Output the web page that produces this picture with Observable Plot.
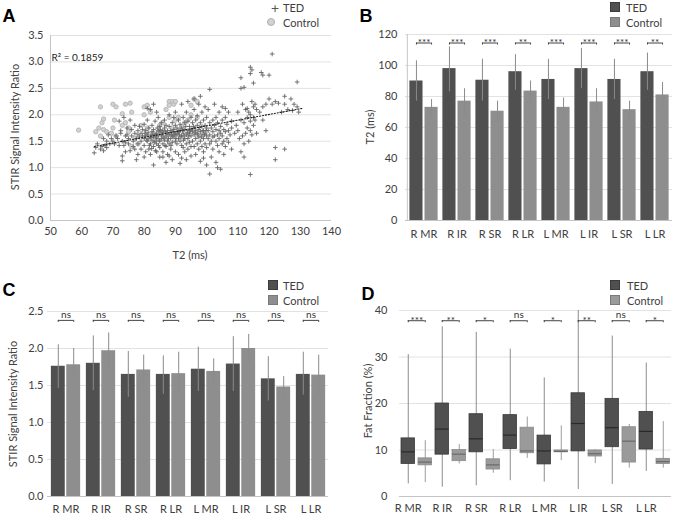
<!DOCTYPE html>
<html><head><meta charset="utf-8">
<script src="https://cdn.jsdelivr.net/npm/d3@7"></script>
<script src="https://cdn.jsdelivr.net/npm/@observablehq/plot@0.6"></script>
<style>
body{margin:0;background:#fff;}
#root{position:relative;width:674px;height:517px;overflow:hidden;font-family:Lato,sans-serif;color:#404040;}
.abs{position:absolute;white-space:nowrap;line-height:1;}
.letter{font-family:"Liberation Sans",Arial,sans-serif;font-weight:bold;font-size:18px;color:#000;transform:translate(-50%,-50%);}
.title{font-size:11px;color:#404040;}
.vt{transform:translate(-50%,-50%) rotate(-90deg);}
.ht{transform:translate(-50%,-50%);}
.leg{font-size:11px;color:#404040;transform:translateY(-50%);}
.legsym{font-size:14px;color:#555;transform:translate(-50%,-50%);}
.sw{position:absolute;width:10px;height:10px;box-sizing:border-box;}
</style></head><body><div id="root"></div>
<script>
// ---------------- DATA ----------------
const cats = ["R MR","R IR","R SR","R LR","L MR","L IR","L SR","L LR"];

// Panel A: scatter
const xTicksA = [50,60,70,80,90,100,110,120,130,140];
const yTicksA = [0,0.5,1.0,1.5,2.0,2.5,3.0,3.5];
const r2Label = "R² = 0.1859";
const trendA = [[64,1.40],[130.5,2.12]];
const ctlPts = [[59,1.71],[64.5,1.68],[65.5,1.75],[66,2.15],[66,1.6],[66.5,1.85],[67,1.92],[67,1.72],[68,1.68],[69.5,1.65],[70,2.2],[70,1.75],[70.5,1.9],[71,2.15],[71,1.6],[73,2.02],[73,1.8],[74,2.2],[74,1.85],[75,1.75],[75,1.68],[75.5,2.22],[76,2.05],[76,1.4],[77,1.55],[78,1.45],[79,1.8],[80,2.15],[80,2.0],[81,2.18],[81,1.75],[82,2.05],[83,1.65],[85,1.8],[86,1.85],[87,2.1],[88,2.25],[88,2.18],[88,1.95],[89,2.25],[89,1.75],[89.5,2.2],[90,2.25],[90,1.9],[91,1.95],[91,1.7],[92,1.78],[93,1.85],[94,1.9],[95,2.18],[95,2.0],[96,2.3],[97,2.25],[97,1.95]];
const tedPts = [
[64,1.28],[64.5,1.38],[65,1.45],[66,1.35],[66.5,1.40],[67,1.32],[67.5,1.42],[68,1.38],[68,1.5],[69,1.45],[69.5,1.55],[68.5,1.62],[67,1.55],
[70,1.5],[70.5,1.45],[71,1.6],[71.5,1.55],[72,1.42],[72.5,1.65],[72,1.88],[73,1.22],[73,1.13],[73.5,1.42],[73.5,1.95],[74,1.48],[74,1.3],[74.5,1.62],[74.5,1.75],[75,1.55],[75,1.45],[74,1.6],[73,1.5],[72.5,1.7],
[75.5,1.32],[75.5,1.9],[76,1.6],[76,1.72],[76.5,1.5],[76.5,1.4],[77,1.65],[77,1.8],[77.5,1.15],[77.5,1.55],[78,1.62],[78,1.7],[78,1.45],[78.5,1.58],[78.5,1.78],[79,1.5],[79,1.65],[79,1.35],[79.5,1.72],[79.5,1.6],[80,1.55],[80,1.82],[80,1.42],[80,1.2],[77,1.35],[78,1.25],
[80.5,1.6],[80.5,1.7],[81,1.5],[81,1.62],[81,1.9],[81.5,1.55],[81.5,1.35],[81.5,1.75],[82,1.6],[82,1.45],[82,2.1],[82,1.25],[82.5,1.68],[82.5,1.52],[82.5,1.8],[83,1.58],[83,1.4],[83,1.72],[83,1.05],[83.5,1.62],[83.5,1.5],[83.5,1.88],[84,1.65],[84,1.45],[84,1.3],[84,1.55],[84.5,1.7],[84.5,1.6],[84.5,1.95],[85,1.5],[85,1.68],[85,1.38],[85,1.78],[85,1.2],[80.5,1.3],[81,2.12],[83,2.2],[84,2.05],
[80.8,1.52],[81.3,1.66],[82.2,1.57],[82.8,1.63],[83.2,1.48],[83.8,1.58],[84.2,1.75],[84.8,1.52],[80.2,1.65],[81.7,1.42],[82.4,1.36],[83.6,1.32],[84.6,1.42],
[85.5,1.62],[85.5,1.55],[85.5,1.85],[86,1.7],[86,1.45],[86,1.6],[86,1.3],[86.5,1.75],[86.5,1.52],[86.5,1.9],[87,1.65],[87,1.4],[87,1.8],[87,1.58],[87.5,1.7],[87.5,1.5],[87.5,1.25],[88,1.62],[88,1.78],[88,1.45],[88,2.0],[88.5,1.55],[88.5,1.7],[88.5,1.35],[89,1.6],[89,1.85],[89,1.48],[89,1.15],[89.5,1.72],[89.5,1.58],[89.5,1.95],[90,1.65],[90,1.5],[90,1.8],[90,1.3],[90,2.05],[86,1.2],[87,1.1],[88,1.22],
[85.8,1.66],[86.3,1.56],[86.8,1.68],[87.3,1.62],[87.8,1.55],[88.3,1.66],[88.8,1.62],[89.3,1.68],[89.8,1.62],[85.2,1.72],[86.7,1.42],[88.6,1.42],
[90.5,1.62],[90.5,1.75],[90.5,1.45],[91,1.55],[91,1.68],[91,1.9],[91,1.25],[91.5,1.7],[91.5,1.5],[91.5,1.82],[91.5,1.08],[92,1.6],[92,1.42],[92,1.75],[92,2.2],[92.5,1.65],[92.5,1.38],[92.5,1.95],[93,1.55],[93,1.72],[93,1.3],[93,1.85],[93.5,1.62],[93.5,1.45],[93.5,2.05],[93.5,1.15],[94,1.7],[94,1.55],[94,1.88],[94,1.35],[94.5,1.65],[94.5,1.48],[94.5,1.78],[95,1.6],[95,1.72],[95,1.4],[95,1.95],[95,1.22],[92,1.18],[94,2.25],
[90.8,1.68],[91.3,1.62],[91.8,1.58],[92.3,1.7],[92.8,1.6],[93.3,1.78],[93.8,1.66],[94.3,1.6],[94.8,1.7],[90.2,1.55],[92.6,1.52],
[95.5,1.68],[95.5,1.5],[95.5,1.85],[96,1.62],[96,1.75],[96,1.4],[96,2.1],[96.5,1.55],[96.5,1.7],[96.5,1.9],[96.5,1.25],[97,1.65],[97,1.8],[97,1.45],[97,1.98],[97.5,1.58],[97.5,1.72],[97.5,1.35],[97.5,2.2],[98,1.68],[98,1.5],[98,1.85],[98,1.12],[98.5,1.62],[98.5,1.78],[98.5,1.4],[98.5,2.05],[99,1.7],[99,1.55],[99,1.9],[99,1.3],[99.5,1.65],[99.5,1.45],[99.5,1.8],[99.5,2.15],[100,1.6],[100,1.75],[100,1.38],[100,1.05],[100,1.95],[96,2.3],[98,2.35],[99,1.18],
[95.8,1.78],[96.3,1.66],[97.2,1.62],[97.8,1.76],[98.3,1.58],[98.8,1.7],[99.3,1.62],[99.8,1.7],
[100.5,1.7],[100.5,1.55],[100.5,2.1],[101,1.62],[101,1.45],[101,1.85],[101,0.88],[101,2.48],[101.5,1.75],[101.5,1.5],[101.5,1.2],[102,1.68],[102,1.9],[102,1.58],[102,1.35],[102.5,1.8],[102.5,1.6],[102.5,2.2],[103,1.72],[103,1.5],[103,1.95],[103,1.1],[103.5,1.62],[103.5,1.85],[103.5,1.42],[103.5,1.0],[104,1.7],[104,1.55],[104,2.05],[104,1.3],[104.5,1.65],[104.5,1.78],[104.5,0.97],[105,1.6],[105,1.9],[105,1.45],[105,2.15],[105.5,1.72],[105.5,1.5],[105.5,1.25],[106,1.68],[106,1.95],[106,1.4],[106.5,1.82],[106.5,1.55],[107,1.7],[107,2.05],[107,1.48],[107.5,1.62],[108,1.75],[108,1.88],[108,1.35],[106,2.12],
[109,1.65],[109.5,1.8],[110,1.7],[110,2.05],[110.5,1.55],[111,1.9],[111,1.3],[111,2.5],[111,2.7],[111.5,2.2],[111.5,1.6],[112,2.52],[112,1.85],[112,1.45],[112,1.2],[112.5,2.1],[112.5,1.65],[113,1.95],[113,1.75],[113,2.12],[113.5,1.5],[113.5,2.05],[114,2.9],[114,2.78],[114,2.0],[114,1.88],[114,0.87],[114,1.7],[114.5,2.85],[114.5,2.25],[114.5,1.62],[115,2.15],[115,1.95],[115,1.8],[115,2.6],[115.5,2.2],[115.5,1.9],[116,1.65],[116,2.1],[117,2.05],[117.5,2.8],[118,2.75],[118,2.15],[118,1.9],[119,1.7],[119,2.2],[120,2.75],[120,2.3],[121,3.15],[121,2.2],[122,1.38],[122,1.15],[122,2.25],[123,2.22],[124,2.05],[125,2.35],[125,2.2],[125,1.35],[126,2.1],[127,2.3],[127.5,2.08],[128,2.2],[129,2.62],[129,2.15],[129.5,2.05]
];

// Panel B: T2 (ms)
const yTicksB = [0,20,40,60,80,100,120];
const t2Ted   = [90, 98, 90.5, 96, 91, 98, 91, 96];
const t2TedLo = [77, 83, 77, 84, 78, 85, 78, 84];
const t2TedHi = [103, 112, 104, 107, 104, 111, 104, 108];
const t2Ctl   = [73, 77, 70.5, 83.5, 73, 76.5, 71.5, 81];
const t2CtlLo = [67, 68, 64, 77, 67, 68, 65, 72];
const t2CtlHi = [78, 85, 77, 90, 79, 85, 77, 89];
const t2Sig   = ["***","***","***","**","***","***","***","**"];
const t2SigY  = 114.5;

// Panel C: STIR signal intensity ratio
const yTicksC = [0,0.5,1.0,1.5,2.0,2.5];
const stTed   = [1.76, 1.80, 1.65, 1.65, 1.72, 1.79, 1.59, 1.65];
const stTedLo = [1.46, 1.43, 1.34, 1.38, 1.42, 1.42, 1.29, 1.37];
const stTedHi = [2.05, 2.17, 1.96, 1.90, 2.02, 2.16, 1.89, 1.95];
const stCtl   = [1.78, 1.97, 1.71, 1.66, 1.69, 2.00, 1.48, 1.64];
const stCtlLo = [1.58, 1.72, 1.51, 1.38, 1.50, 1.79, 1.35, 1.37];
const stCtlHi = [2.00, 2.21, 1.91, 1.95, 1.86, 2.19, 1.62, 1.91];
const stSig   = ["ns","ns","ns","ns","ns","ns","ns","ns"];
const stSigY  = 2.38;

// Panel D: Fat fraction (%)
const yTicksD = [0,10,20,30,40];
const ffTedMin = [2.7, 2.0, 2.3, 3.4, 3.1, 1.5, 2.6, 5.4];
const ffTedQ1  = [7.0, 9.0, 9.5, 10.2, 6.9, 9.7, 10.6, 10.1];
const ffTedMed = [9.6, 14.5, 12.4, 13.2, 9.8, 15.7, 14.8, 14.0];
const ffTedQ3  = [12.5, 20.0, 17.7, 17.5, 13.1, 22.2, 21.0, 18.2];
const ffTedMax = [30.5, 36.5, 35.3, 31.7, 25.5, 40.0, 34.5, 28.7];
const ffCtlMin = [3.0, 7.0, 5.0, 8.2, 7.7, 7.1, 6.1, 6.1];
const ffCtlQ1  = [6.7, 7.6, 5.8, 9.3, 9.5, 8.6, 7.3, 7.0];
const ffCtlMed = [7.4, 9.1, 6.8, 9.8, 9.7, 9.2, 11.9, 7.5];
const ffCtlQ3  = [8.2, 10.0, 8.0, 14.8, 9.9, 9.9, 14.9, 8.1];
const ffCtlMax = [12.0, 11.2, 10.1, 17.1, 15.2, 10.1, 15.5, 16.1];
const ffSig    = ["***","**","*","ns","*","**","ns","*"];
const ffSigY   = 37.8;

// ---------------- STYLE ----------------
const TED_FILL = "#505050", CTL_FILL = "#8e8e8e";
const GRID = "#e2e2e2", AXISLINE = "#c4c4c4", ERR = "#8a8a8a";
const baseStyle = {fontFamily:"Lato, sans-serif", fontSize:"11px", color:"#404040", background:"transparent", overflow:"visible"};

const root = document.getElementById("root");
function addSvg(svg, left, top){ svg.style.position="absolute"; svg.style.left=left+"px"; svg.style.top=top+"px"; root.appendChild(svg); }
function txt(text, x, y, cls){ const d=document.createElement("div"); d.className="abs "+cls; d.textContent=text; d.style.left=x+"px"; d.style.top=y+"px"; root.appendChild(d); return d; }
function swatch(x, y, fill, stroke){ const d=document.createElement("div"); d.className="sw"; d.style.left=x+"px"; d.style.top=y+"px"; d.style.background=fill; d.style.border="1px solid "+stroke; root.appendChild(d); }

// ---------------- PANEL A ----------------
const plotA = Plot.plot({
  width:337, height:258, marginLeft:50, marginRight:6, marginTop:35, marginBottom:38,
  style: baseStyle,
  x:{domain:[xTicksA[0], xTicksA[xTicksA.length-1]]},
  y:{domain:[yTicksA[0], yTicksA[yTicksA.length-1]]},
  marks:[
    Plot.gridY({ticks:yTicksA, stroke:GRID, strokeOpacity:1}),
    Plot.ruleX([xTicksA[0]], {stroke:AXISLINE}),
    Plot.ruleY([yTicksA[0]], {stroke:AXISLINE}),
    Plot.axisY({ticks:yTicksA, tickSize:0, tickPadding:7, tickFormat:d=>d.toFixed(1), label:null}),
    Plot.axisX({ticks:xTicksA, tickSize:0, tickPadding:7, label:null}),
    Plot.dot(ctlPts, {x:d=>d[0], y:d=>d[1], r:2.2, fill:"#d2d2d2", stroke:"#b0b0b0", strokeWidth:0.8}),
    Plot.dot(tedPts, {x:d=>d[0], y:d=>d[1], symbol:"plus", r:1.6, stroke:"#666", strokeWidth:0.9, fill:"none"}),
    Plot.line(trendA, {x:d=>d[0], y:d=>d[1], stroke:"#1a1a1a", strokeWidth:1.1, strokeDasharray:"1.2,1.8"}),
    Plot.text([r2Label], {text:d=>d, frameAnchor:"top-left", textAnchor:"start", dx:1, dy:18, fontSize:10, fill:"#222"})
  ]
});
addSvg(plotA, 0, 0);

// ---------------- PANELS B & C ----------------
function barPanel(o){
  const rows = cats.map((c,i)=>({cat:c, ted:o.ted[i], tLo:o.tedLo[i], tHi:o.tedHi[i], ctl:o.ctl[i], cLo:o.ctlLo[i], cHi:o.ctlHi[i], sig:o.sig[i]}));
  const bw = (o.width - o.ml - o.mr)/cats.length;
  const half = bw/2, g = o.gap/2, w = o.barW;
  const cOff = g + w/2;
  const y0 = o.yTicks[0], y1 = o.yTicks[o.yTicks.length-1];
  const capLen = 2*(y1-y0)/(o.height - o.mt - o.mb);
  const marks = [
    Plot.gridY({ticks:o.yTicks, stroke:GRID, strokeOpacity:1}),
    Plot.ruleY([y0], {stroke:AXISLINE}),
    Plot.barY(rows, {x:"cat", y:"ted", fill:TED_FILL, insetLeft:half-g-w, insetRight:half+g}),
    Plot.barY(rows, {x:"cat", y:"ctl", fill:CTL_FILL, insetLeft:half+g, insetRight:half-g-w}),
    Plot.ruleX(rows, {x:"cat", y1:"tLo", y2:"tHi", dx:-cOff, stroke:ERR}),
    Plot.ruleX(rows, {x:"cat", y1:"cLo", y2:"cHi", dx:cOff, stroke:ERR}),
    Plot.ruleY(rows, {x1:"cat", x2:"cat", y:()=>o.sigY, insetLeft:half-cOff, insetRight:half-cOff, stroke:"#444"}),
    Plot.ruleX(rows, {x:"cat", y1:()=>o.sigY, y2:()=>o.sigY-capLen, dx:-cOff, stroke:"#444"}),
    Plot.ruleX(rows, {x:"cat", y1:()=>o.sigY, y2:()=>o.sigY-capLen, dx:cOff, stroke:"#444"}),
    Plot.text(rows, {filter:d=>d.sig!=="ns", x:"cat", y:()=>o.sigY, text:"sig", dy:0, fontSize:10, fill:"#333"}),
    Plot.text(rows, {filter:d=>d.sig==="ns", x:"cat", y:()=>o.sigY, text:"sig", dy:-6, fontSize:10, fill:"#333"}),
    Plot.axisY({ticks:o.yTicks, tickSize:0, tickPadding:o.ytp, tickFormat:o.fmt, label:null}),
    Plot.axisX({tickSize:0, tickPadding:o.xtp, label:null})
  ];
  if (o.leftLine) marks.splice(1, 0, Plot.ruleX([cats[0]], {dx:-half, stroke:AXISLINE}));
  return Plot.plot({
    width:o.width, height:o.height, marginLeft:o.ml, marginRight:o.mr, marginTop:o.mt, marginBottom:o.mb,
    style: baseStyle,
    x:{domain:cats, padding:0}, y:{domain:[y0,y1]},
    marks
  });
}

const plotB = barPanel({width:337, height:258, ml:68, mr:2, mt:34, mb:38,
  ted:t2Ted, tedLo:t2TedLo, tedHi:t2TedHi, ctl:t2Ctl, ctlLo:t2CtlLo, ctlHi:t2CtlHi, sig:t2Sig, sigY:t2SigY,
  yTicks:yTicksB, fmt:d=>String(d), ytp:8, xtp:10, gap:1.6, barW:13.5, leftLine:true});
addSvg(plotB, 337, 0);

const plotC = barPanel({width:337, height:259, ml:47, mr:9, mt:53, mb:21,
  ted:stTed, tedLo:stTedLo, tedHi:stTedHi, ctl:stCtl, ctlLo:stCtlLo, ctlHi:stCtlHi, sig:stSig, sigY:stSigY,
  yTicks:yTicksC, fmt:d=>d.toFixed(1), ytp:4, xtp:9, gap:1.4, barW:14, leftLine:false});
addSvg(plotC, 0, 258);

// ---------------- PANEL D ----------------
(function(){
  const rows = cats.map((c,i)=>({cat:c, tMin:ffTedMin[i], tQ1:ffTedQ1[i], tMed:ffTedMed[i], tQ3:ffTedQ3[i], tMax:ffTedMax[i],
    cMin:ffCtlMin[i], cQ1:ffCtlQ1[i], cMed:ffCtlMed[i], cQ3:ffCtlQ3[i], cMax:ffCtlMax[i], sig:ffSig[i]}));
  const W=337, H=259, ml=62, mr=3, mt=52, mb=21;
  const bw = (W-ml-mr)/cats.length;
  const boxW = 13.5, tedL = 2, ctlL = 19;
  const tedR = bw - tedL - boxW, ctlR = bw - ctlL - boxW;
  const tedDx = tedL + boxW/2 - bw/2, ctlDx = ctlL + boxW/2 - bw/2;
  const y0 = yTicksD[0], y1 = yTicksD[yTicksD.length-1];
  const capLen = 2*(y1-y0)/(H-mt-mb);
  const plotD = Plot.plot({
    width:W, height:H, marginLeft:ml, marginRight:mr, marginTop:mt, marginBottom:mb,
    style: baseStyle,
    x:{domain:cats, padding:0}, y:{domain:[y0,y1]},
    marks:[
      Plot.gridY({ticks:yTicksD, stroke:GRID, strokeOpacity:1}),
      Plot.ruleY([y0], {stroke:AXISLINE}),
      Plot.ruleX(rows, {x:"cat", y1:"tMin", y2:"tMax", dx:tedDx, stroke:"#8c8c8c"}),
      Plot.ruleX(rows, {x:"cat", y1:"cMin", y2:"cMax", dx:ctlDx, stroke:"#9c9c9c"}),
      Plot.barY(rows, {x:"cat", y1:"tQ1", y2:"tQ3", insetLeft:tedL, insetRight:tedR, fill:TED_FILL, stroke:"#3a3a3a", strokeWidth:0.8}),
      Plot.barY(rows, {x:"cat", y1:"cQ1", y2:"cQ3", insetLeft:ctlL, insetRight:ctlR, fill:"#9a9a9a", stroke:"#8a8a8a", strokeWidth:0.8}),
      Plot.ruleY(rows, {x1:"cat", x2:"cat", y:"tMed", insetLeft:tedL, insetRight:tedR, stroke:"#2a2a2a", strokeWidth:1.2}),
      Plot.ruleY(rows, {x1:"cat", x2:"cat", y:"cMed", insetLeft:ctlL, insetRight:ctlR, stroke:"#6a6a6a", strokeWidth:1.2}),
      Plot.ruleY(rows, {x1:"cat", x2:"cat", y:()=>ffSigY, insetLeft:tedL+boxW/2, insetRight:ctlR+boxW/2, stroke:"#444"}),
      Plot.ruleX(rows, {x:"cat", y1:()=>ffSigY, y2:()=>ffSigY-capLen, dx:tedDx, stroke:"#444"}),
      Plot.ruleX(rows, {x:"cat", y1:()=>ffSigY, y2:()=>ffSigY-capLen, dx:ctlDx, stroke:"#444"}),
      Plot.text(rows, {filter:d=>d.sig!=="ns", x:"cat", y:()=>ffSigY, text:"sig", dx:(tedDx+ctlDx)/2, dy:0, fontSize:10, fill:"#333"}),
      Plot.text(rows, {filter:d=>d.sig==="ns", x:"cat", y:()=>ffSigY, text:"sig", dx:(tedDx+ctlDx)/2, dy:-6, fontSize:10, fill:"#333"}),
      Plot.axisY({ticks:yTicksD, tickSize:0, tickPadding:12, label:null}),
      Plot.axisX({tickSize:0, tickPadding:8, label:null, dx:tedDx})
    ]
  });
  addSvg(plotD, 337, 258);
})();

// ---------------- TEXT: letters, titles, legends ----------------
txt("A", 9, 16, "letter");
txt("B", 366, 16, "letter");
txt("C", 9, 290, "letter");
txt("D", 368, 294, "letter");

txt("STIR Signal Intensity Ratio", 14, 127, "title vt");
txt("T2 (ms)", 190, 254, "title ht");
txt("T2 (ms)", 369, 127, "title vt");
txt("STIR Signal Intensity Ratio", 12, 404, "title vt");
txt("Fat Fraction (%)", 367, 401, "title vt");

// Legend A
txt("+", 275, 8, "legsym");
(function(){ const c=document.createElement("div"); c.style.cssText="position:absolute;left:267px;top:18px;width:8px;height:8px;box-sizing:border-box;border-radius:50%;background:#d2d2d2;border:1px solid #b0b0b0;"; root.appendChild(c); })();
txt("TED", 283, 7, "leg");
txt("Control", 283, 22, "leg");
// Legend B
swatch(610, 2, TED_FILL, "#3a3a3a"); swatch(610, 17, CTL_FILL, "#7a7a7a");
txt("TED", 626, 7, "leg"); txt("Control", 626, 22, "leg");
// Legend C
swatch(268, 280, TED_FILL, "#3a3a3a"); swatch(268, 295, CTL_FILL, "#7a7a7a");
txt("TED", 283, 285, "leg"); txt("Control", 283, 300, "leg");
// Legend D
swatch(610, 280, TED_FILL, "#3a3a3a"); swatch(610, 295, "#9a9a9a", "#7a7a7a");
txt("TED", 627, 285, "leg"); txt("Control", 627, 300, "leg");
</script>
</body></html>
